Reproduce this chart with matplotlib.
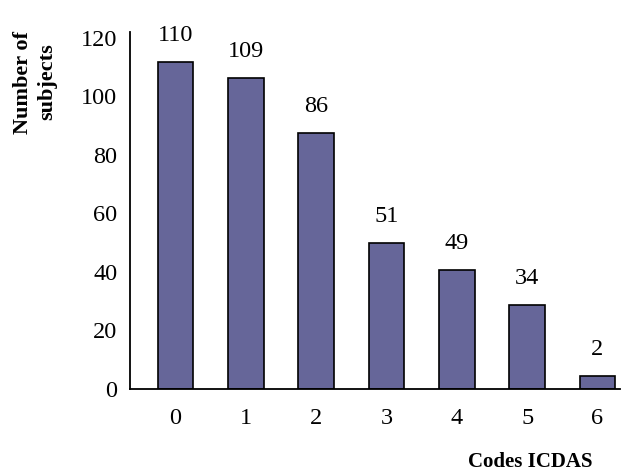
import matplotlib
matplotlib.use("Agg")
import matplotlib.pyplot as plt

# Data
codes = ["0", "1", "2", "3", "4", "5", "6"]
label_values = [110, 109, 86, 51, 49, 34, 2]          # numbers printed above the bars
bar_heights = [111.8, 106.3, 87.5, 49.9, 40.7, 28.7, 4.4]  # heights as drawn in the picture
y_ticks = [0, 20, 40, 60, 80, 100, 120]

plt.rcParams['font.family'] = ['Liberation Serif', 'DejaVu Serif']

fig = plt.figure(figsize=(6.24, 4.75), dpi=100)
ax = fig.add_axes([0.2083, 0.181, 0.7853, 0.7516])

x = list(range(len(codes)))
bars = ax.bar(x, bar_heights, width=0.51, color="#666699", edgecolor="black", linewidth=1.2)

for xi, h, lab in zip(x, bar_heights, label_values):
    ax.annotate(str(lab), xy=(xi, h), xytext=(0, 15), textcoords="offset points",
                ha="center", va="baseline", fontsize=17.5)

ax.set_xlim(-0.647, 6.32)
ax.set_ylim(0, 122)
ax.set_xticks(x)
ax.set_xticklabels(codes, fontsize=17.5)
ax.set_yticks(y_ticks)
ax.set_yticklabels([str(t) for t in y_ticks], fontsize=17.5)
ax.tick_params(axis="both", length=0)
ax.tick_params(axis="x", pad=14)
ax.tick_params(axis="y", pad=9)

for s in ["top", "right"]:
    ax.spines[s].set_visible(False)
for s in ["left", "bottom"]:
    ax.spines[s].set_linewidth(1.3)
    ax.spines[s].set_color("black")

fig.text(530 / 624, 1 - 462 / 475, "Codes ICDAS", ha="center", va="center",
         fontsize=15, fontweight="bold")
fig.text(35 / 624, 1 - 82 / 475, "Number of\nsubjects", ha="center", va="center",
         rotation=90, fontsize=16, fontweight="bold", multialignment="center",
         linespacing=1.3)

fig.savefig("out.png", dpi=100)
